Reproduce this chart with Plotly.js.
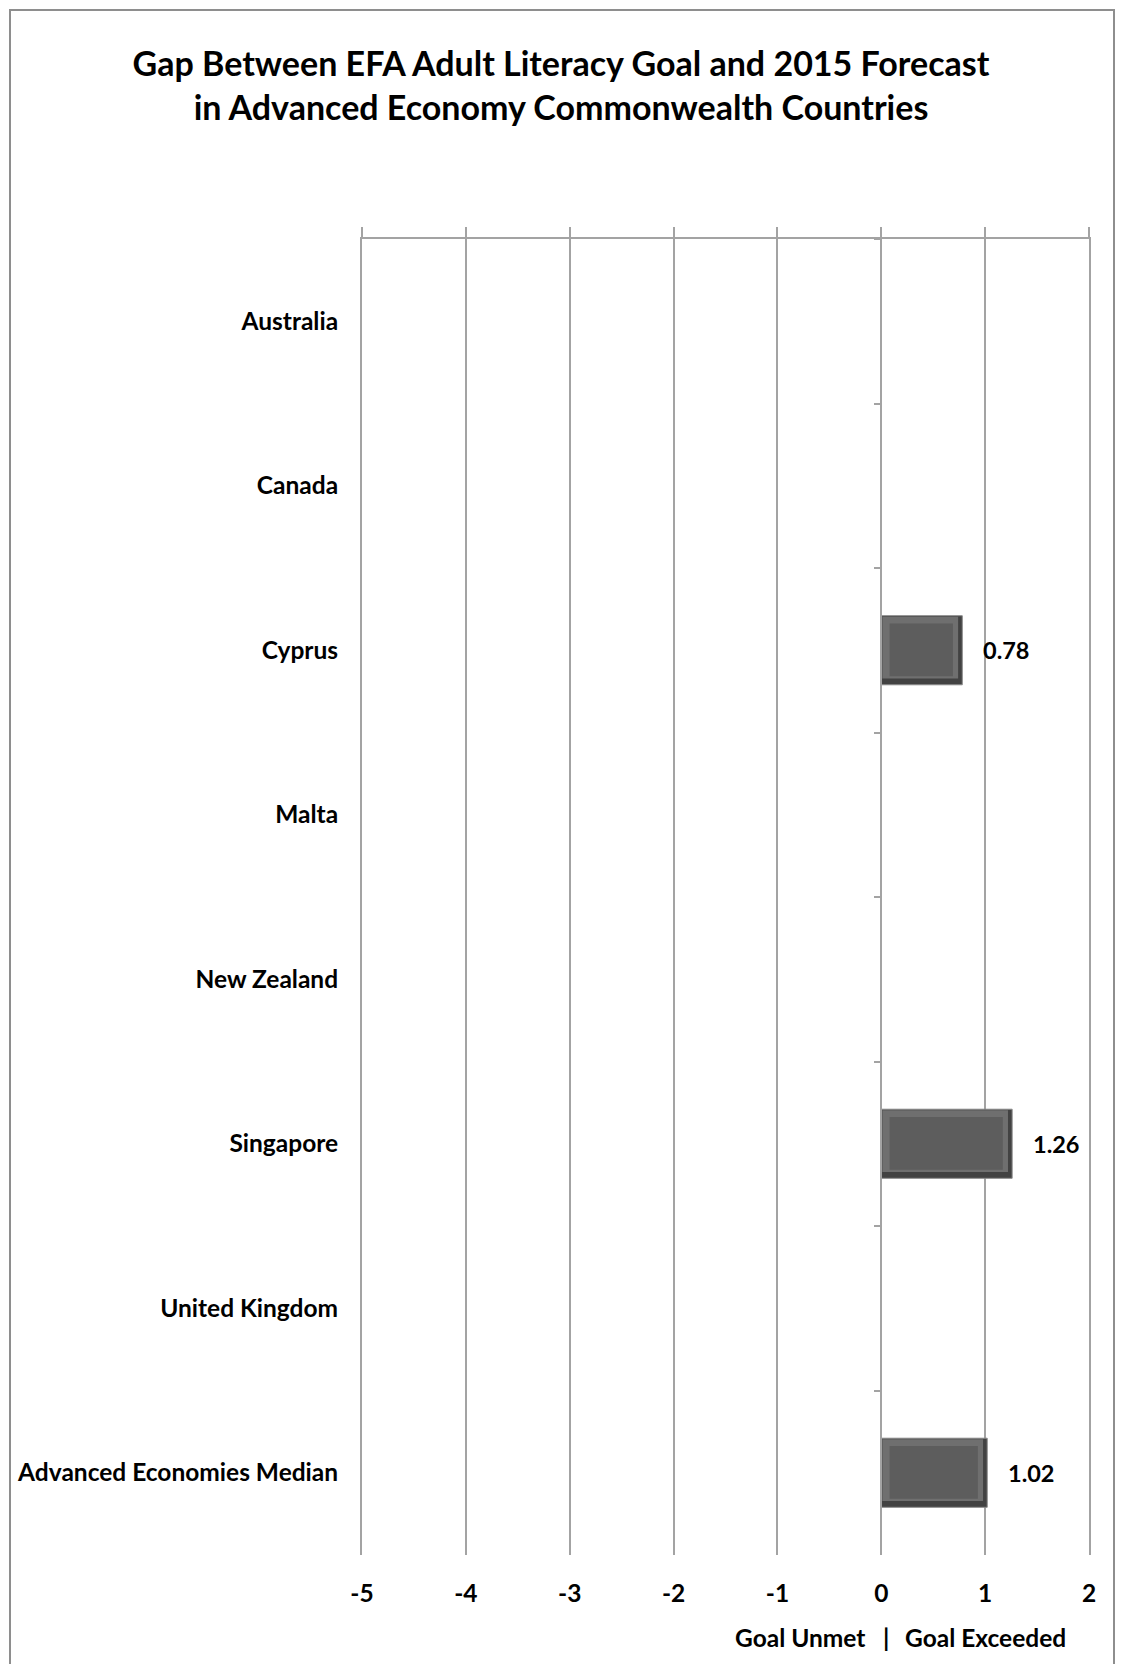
<!DOCTYPE html>
<html>
<head>
<meta charset="utf-8">
<script src="https://cdn.plot.ly/plotly-3.0.1.min.js"></script>
<style>
  html, body { margin: 0; padding: 0; background: #fff; }
  #wrap { position: relative; width: 1122px; height: 1664px; }
  #chart { width: 1122px; height: 1664px; }
  #frame { position: absolute; left: 9px; top: 9px; width: 1102px; height: 1700px;
           border: 2px solid #8e8e8e; pointer-events: none; }
</style>
</head>
<body>
<div id="wrap">
  <div id="chart"></div>
  <div id="frame"></div>
</div>
<script>
// ---- data ----
const categories = ["Australia", "Canada", "Cyprus", "Malta", "New Zealand",
                    "Singapore", "United Kingdom", "Advanced Economies Median"];
const gapValues = [null, null, 0.78, null, null, 1.26, null, 1.02];
const xTickValues = [-5, -4, -3, -2, -1, 0, 1, 2];
const xTickLabels = ["-5", "-4", "-3", "-2", "-1", "0", "1", "2"];
const titleText = "Gap Between EFA Adult Literacy Goal and 2015 Forecast<br>in Advanced Economy Commonwealth Countries";
const noteLeft = "Goal Unmet";
const noteMid = "|";
const noteRight = "Goal Exceeded";

const FONT = "Lato, 'Open Sans', sans-serif";
const GRID = "#a3a3a3";
const BAR_W = 0.42;

// bevelled bar: dark rim, lighter top/left highlight, flat face
const rim = {
  type: "bar", orientation: "h",
  x: gapValues, y: categories, width: BAR_W,
  marker: { color: "#424242", line: { color: "#8a8a8a", width: 1 } },
  showlegend: false, hoverinfo: "x+y"
};
const highlight = {
  type: "bar", orientation: "h",
  x: gapValues.map(v => v === null ? null : v - 0.05),
  base: gapValues.map(v => v === null ? null : 0.01),
  y: categories,
  width: BAR_W - 0.045,
  offset: -BAR_W / 2 + 0.006,
  marker: { color: "#6f6f6f", line: { width: 0 } },
  showlegend: false, hoverinfo: "skip"
};
const face = {
  type: "bar", orientation: "h",
  x: gapValues.map(v => v === null ? null : v - 0.17),
  base: gapValues.map(v => v === null ? null : 0.08),
  y: categories,
  width: BAR_W - 0.1,
  offset: -BAR_W / 2 + 0.048,
  marker: { color: "#5d5d5d", line: { width: 0 } },
  showlegend: false, hoverinfo: "skip"
};

// invisible helper trace for the category-boundary tick axis at x = 0
const helper = {
  type: "scatter", mode: "markers",
  x: categories.map(() => null), y: categories,
  xaxis: "x2", yaxis: "y2",
  hoverinfo: "skip", showlegend: false
};

const labelAnnotations = categories
  .map((c, i) => ({ c, v: gapValues[i] }))
  .filter(d => d.v !== null)
  .map(d => ({
    x: d.v, y: d.c, xref: "x", yref: "y",
    text: d.v.toFixed(2), showarrow: false,
    xanchor: "left", xshift: 19,
    font: { family: FONT, size: 23.5, color: "#000", weight: 700 }
  }));

const noteFont = { family: FONT, size: 24.5, color: "#000", weight: 700 };
const NOTE_SHIFT = -99;
const noteAnnotations = [
  { x: 0, y: 0, xref: "x", yref: "paper", yshift: NOTE_SHIFT, text: noteLeft, xanchor: "right", xshift: -14, showarrow: false, font: noteFont },
  { x: 0, y: 0, xref: "x", yref: "paper", yshift: NOTE_SHIFT, text: noteMid, xanchor: "center", xshift: 5, showarrow: false, font: noteFont },
  { x: 0, y: 0, xref: "x", yref: "paper", yshift: NOTE_SHIFT, text: noteRight, xanchor: "left", xshift: 22, showarrow: false, font: noteFont }
];

const layout = {
  width: 1122,
  height: 1664,
  margin: { l: 362, r: 33, t: 239, b: 109 },
  paper_bgcolor: "#fff",
  plot_bgcolor: "#fff",
  font: { family: FONT, color: "#000" },
  barmode: "overlay",
  title: {
    text: titleText,
    x: 0.5, xref: "container", xanchor: "center",
    y: 1 - 76 / 1664, yref: "container", yanchor: "middle",
    font: { family: FONT, size: 34, color: "#000", weight: 700 }
  },
  xaxis: {
    range: [-5, 2],
    tickvals: xTickValues,
    ticktext: xTickLabels,
    showgrid: true, gridcolor: GRID, gridwidth: 2,
    zeroline: false, showline: false,
    ticks: "outside", ticklen: 17, tickcolor: "rgba(0,0,0,0)",
    tickfont: { family: FONT, size: 24.5, color: "#000", weight: 700 },
    fixedrange: true
  },
  xaxis2: {
    overlaying: "x", side: "top", anchor: "y",
    range: [-5, 2],
    tickvals: xTickValues,
    showticklabels: false, showgrid: false, zeroline: false,
    showline: true, linecolor: GRID, linewidth: 2,
    ticks: "outside", ticklen: 10, tickcolor: GRID, tickwidth: 2
  },
  yaxis: {
    type: "category",
    categoryorder: "array", categoryarray: categories,
    range: [categories.length - 0.5, -0.5],
    showgrid: false, zeroline: false,
    showline: true, mirror: true, linecolor: GRID, linewidth: 2,
    ticks: "", ticklabelstandoff: 17,
    tickfont: { family: FONT, size: 24.5, color: "#000", weight: 700 },
    fixedrange: true
  },
  yaxis2: {
    type: "category",
    overlaying: "y", anchor: "free", side: "left",
    position: 5 / 7,
    categoryorder: "array", categoryarray: categories,
    range: [categories.length - 0.5, -0.5],
    tickson: "boundaries",
    ticks: "outside", ticklen: 6, tickcolor: GRID, tickwidth: 2,
    showticklabels: false, showgrid: false, zeroline: false,
    showline: true, linecolor: GRID, linewidth: 2
  },
  annotations: labelAnnotations.concat(noteAnnotations),
  showlegend: false
};

Plotly.newPlot("chart", [rim, highlight, face, helper], layout, { displayModeBar: false, staticPlot: true });
</script>
</body>
</html>
